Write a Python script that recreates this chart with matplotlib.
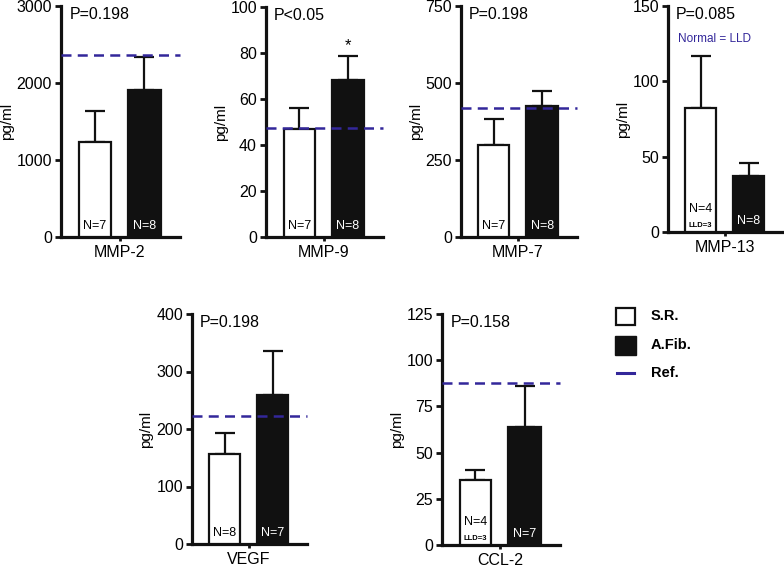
#!/usr/bin/env python3
"""Serum MMP / VEGF / CCL-2 levels, S.R. vs A.Fib., with reference lines."""

import numpy as np
import matplotlib
matplotlib.use("Agg")
import matplotlib.pyplot as plt
from matplotlib.patches import Rectangle
from matplotlib.lines import Line2D

plt.rcParams["font.family"] = ["Liberation Sans", "DejaVu Sans"]

W, H = 784, 567

names = ["MMP-2", "MMP-9", "MMP-7", "MMP-13", "VEGF", "CCL-2"]
sr_mean = [1234, 47, 299, 82.5, 156, 35]
sr_err = [402, 9, 84, 34.5, 37, 5.5]
af_mean = [1909, 68.3, 425, 37.5, 259, 64]
af_err = [430, 10.5, 49, 8, 77, 22]
ref_val = [2364, 47.4, 419, None, 222.6, 87.7]
y_max = [3000, 100, 750, 150, 400, 125]
y_step = [1000, 20, 250, 50, 100, 25]
p_text = ["P=0.198", "P<0.05", "P=0.198", "P=0.085", "P=0.198", "P=0.158"]
n_sr = ["N=7", "N=7", "N=7", "N=4", "N=8", "N=4"]
n_af = ["N=8", "N=8", "N=8", "N=8", "N=7", "N=7"]
lld_note = [None, None, None, "LLD=3", None, "LLD=3"]
star = [False, True, False, False, False, False]
legend_labels = ["S.R.", "A.Fib.", "Ref."]

# axes boxes in pixels: left, top, right, zero line
boxes = [(61, 6, 180, 237), (266, 7, 383, 237), (461, 6, 577, 237),
         (668, 6, 783, 232), (192, 314, 307, 544), (442, 314, 560, 545)]

REF_COLOR = "#33279a"
BLACK = "#111111"

fig = plt.figure(figsize=(W / 100, H / 100), dpi=100)

for i, (l, t, r, b) in enumerate(boxes):
    ax = fig.add_axes([l / W, 1 - b / H, (r - l) / W, (b - t) / H])
    ax.set_xlim(-0.68, 1.72)
    ax.set_ylim(0, y_max[i])
    for side in ("top", "right"):
        ax.spines[side].set_visible(False)
    for side in ("left", "bottom"):
        ax.spines[side].set_linewidth(2.3)
        ax.spines[side].set_color(BLACK)
    ax.bar([0], [sr_mean[i]], width=0.64, color="white", edgecolor=BLACK, linewidth=1.6, zorder=3)
    ax.bar([1], [af_mean[i]], width=0.66, color=BLACK, edgecolor=BLACK, linewidth=1.6, zorder=3)
    ax.errorbar([0, 1], [sr_mean[i], af_mean[i]], yerr=[[0, 0], [sr_err[i], af_err[i]]],
                fmt="none", ecolor=BLACK, elinewidth=1.6, capsize=7, capthick=1.6, zorder=2)
    if ref_val[i] is not None:
        ax.axhline(ref_val[i], color=REF_COLOR, lw=1.8, dashes=(4, 2.5), zorder=4, clip_on=False)
    ax.set_yticks(np.arange(0, y_max[i] + 1, y_step[i]))
    ax.tick_params(axis="y", length=4, width=2, labelsize=11.5, pad=2.5, color=BLACK)
    ax.set_xticks([0.5])
    ax.set_xticklabels([names[i]])
    ax.tick_params(axis="x", length=3, width=2, labelsize=11.5, pad=2.5, color=BLACK)
    ax.set_ylabel("pg/ml", fontsize=11, labelpad=2)
    ax.text(0.07, 0.995, p_text[i], transform=ax.transAxes, ha="left", va="top", fontsize=11.5)
    if i == 3:
        ax.text(0.09, 0.88, "Normal = LLD", transform=ax.transAxes, ha="left", va="top",
                fontsize=8.5, color=REF_COLOR)
    if lld_note[i]:
        ax.text(0, 0.075, n_sr[i], transform=ax.get_xaxis_transform(), ha="center", va="bottom",
                fontsize=9, zorder=5)
        ax.text(0, 0.015, lld_note[i], transform=ax.get_xaxis_transform(), ha="center", va="bottom",
                fontsize=5.5, fontweight="bold", zorder=5)
    else:
        ax.text(0, 0.02, n_sr[i], transform=ax.get_xaxis_transform(), ha="center", va="bottom",
                fontsize=9, zorder=5)
    ax.text(1, 0.02, n_af[i], transform=ax.get_xaxis_transform(), ha="center", va="bottom",
            fontsize=9, color="white", zorder=5)
    if star[i]:
        ax.text(1, af_mean[i] + af_err[i] + 1, "*", ha="center", va="bottom", fontsize=12)

# legend drawn in a pixel-space axes
lax = fig.add_axes([0, 0, 1, 1], zorder=-1)
lax.set_xlim(0, W)
lax.set_ylim(H, 0)
lax.axis("off")
lax.add_patch(Rectangle((616, 308), 19, 17, facecolor="white", edgecolor=BLACK, lw=1.6))
lax.add_patch(Rectangle((615, 336), 21, 19, facecolor=BLACK, edgecolor=BLACK, lw=1))
lax.add_line(Line2D([617, 634], [373, 373], color=REF_COLOR, lw=2.2))
for y, lab in zip([316, 345, 373], legend_labels):
    lax.text(651, y, lab, ha="left", va="center", fontsize=10.5, fontweight="bold")

fig.savefig("out.png", dpi=100)
